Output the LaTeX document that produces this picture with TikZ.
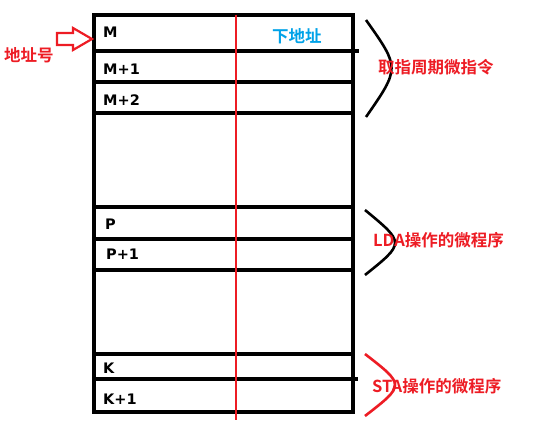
\documentclass[tikz,border=0pt]{standalone}
\usepackage{fontspec}
\setmainfont{Noto Sans CJK SC Bold}
\newfontfamily\labfont{DejaVu Sans Bold}
\definecolor{myred}{RGB}{237,28,36}
\definecolor{myblue}{RGB}{0,162,232}
\begin{document}
\begin{tikzpicture}[x=1pt,y=-1pt,
  cell/.style={line width=3.2pt,draw=black},
  addr/.style={anchor=west,inner sep=0pt,font=\labfont\fontsize{14.5}{15}\selectfont},
  redlbl/.style={anchor=west,inner sep=0pt,text=myred,font=\fontsize{16.5}{17}\selectfont},
  brace/.style={line width=2.6pt}]
\useasboundingbox (0,0) rectangle (544,425);
% table
\draw[cell] (94,15) rectangle (353,412);
\draw[cell] (94,51) -- (359,51);
\draw[cell] (92,82) -- (353,82);
\draw[cell] (94,113) -- (353,113);
\draw[cell] (94,207) -- (353,207);
\draw[cell] (94,239) -- (353,239);
\draw[cell] (92,270) -- (353,270);
\draw[cell] (94,354) -- (353,354);
\draw[cell] (94,379) -- (358,379);
\draw[myred,line width=2.2pt] (236,15) -- (236,420);
% cell labels
\node[addr] (m) at (103,32) {M};
\node[addr] (m1) at (103,69) {M+1};
\node[addr] (m2) at (103,100) {M+2};
\node[addr] (p) at (105,224) {P};
\node[addr] (p1) at (106,254) {P+1};
\node[addr] (k) at (103,368) {K};
\node[addr] (k1) at (103,399) {K+1};
\node[anchor=west,inner sep=0pt,text=myblue,font=\fontsize{16.5}{17}\selectfont] (next) at (272,36) {下地址};
% address arrow
\node[redlbl] (addrno) at (4,55) {地址号};
\draw[myred,line width=2.2pt,line join=miter] (57,33) -- (73,33) -- (73,28) -- (92,39) -- (73,50) -- (73,45) -- (57,45) -- cycle;
% braces
\draw[brace] (366,20) .. controls (400,68) .. (366,117);
\node[redlbl] (fetch) at (378,67) {取指周期微指令};
\draw[brace] (365,210) .. controls (405,243) .. (365,275);
\node[redlbl] (lda) at (373,240) {LDA操作的微程序};
\draw[brace,myred] (365,354) .. controls (405,385) .. (365,416);
\node[redlbl] (sta) at (372,386) {STA操作的微程序};
\end{tikzpicture}
\end{document}
